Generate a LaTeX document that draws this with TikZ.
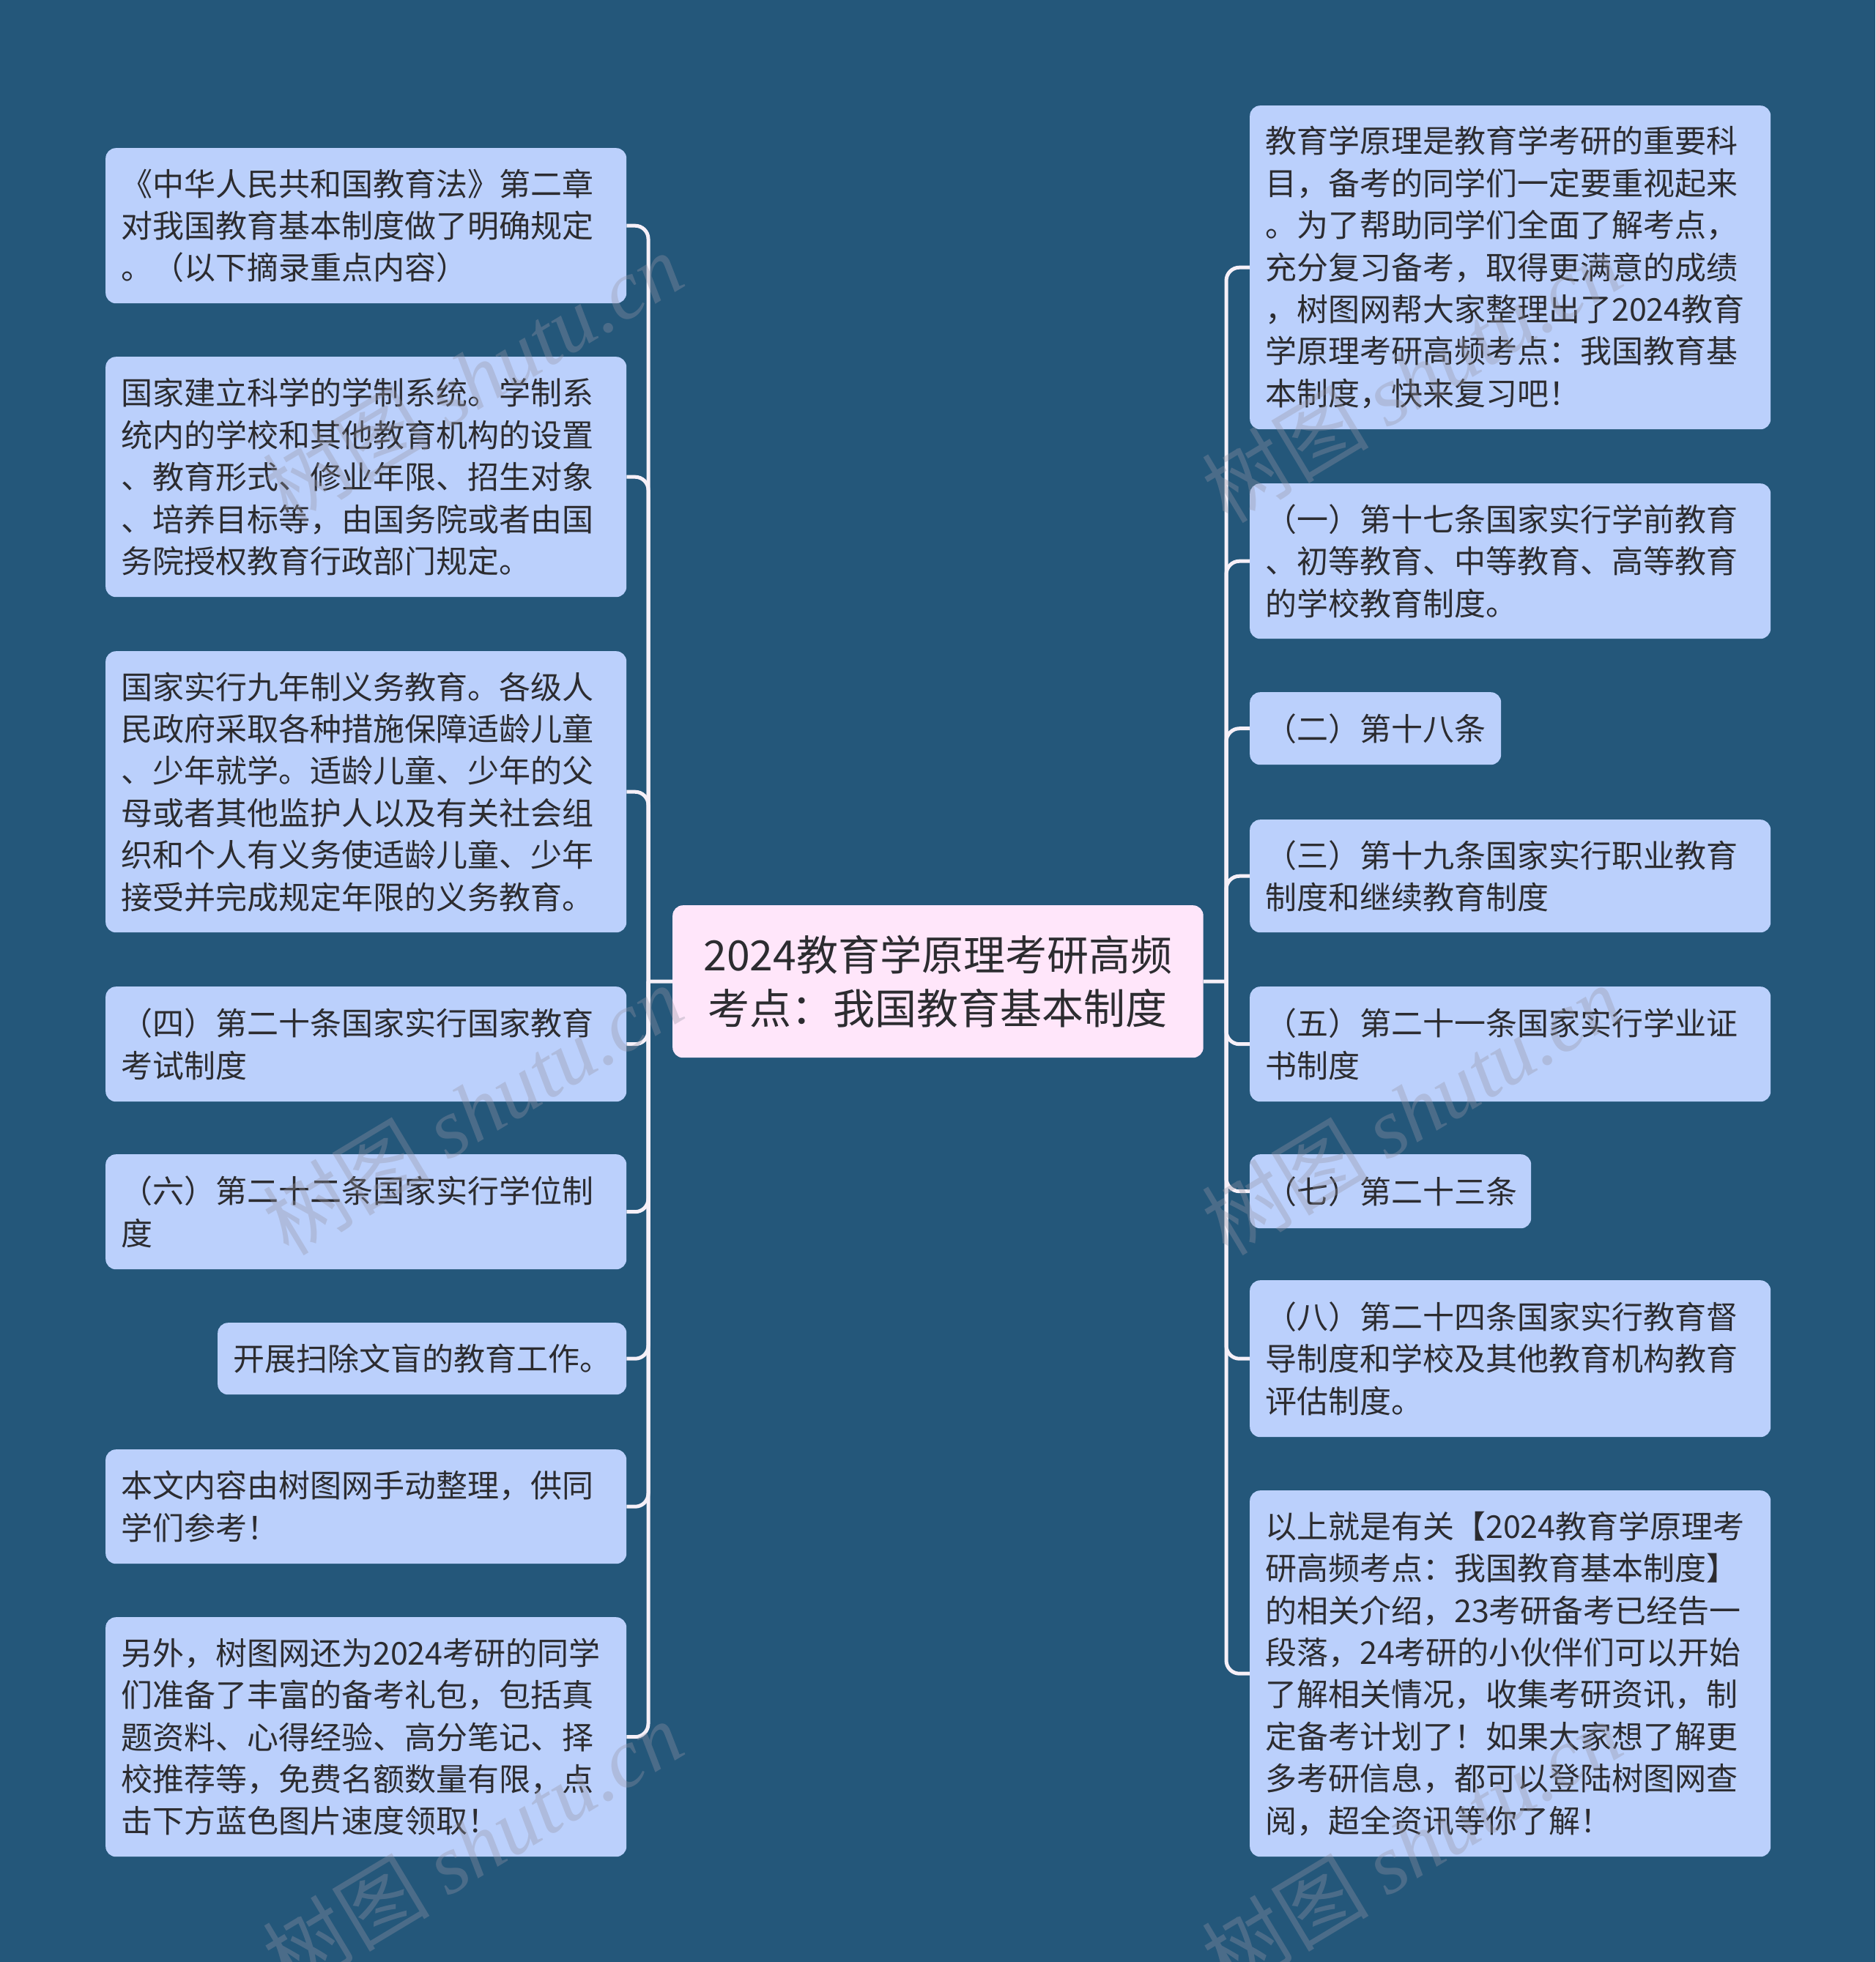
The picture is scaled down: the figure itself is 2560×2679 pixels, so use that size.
\documentclass[tikz,border=0pt]{standalone}
\usepackage{fontspec}
\setmainfont{Noto Sans CJK SC}
\newfontfamily\wmlat{Liberation Serif}
\newfontfamily\wmcjk{Noto Sans CJK SC}
\definecolor{bgc}{RGB}{36,87,122}
\definecolor{leafc}{RGB}{187,208,252}
\definecolor{rootc}{RGB}{255,230,250}
\definecolor{txt}{RGB}{44,44,48}
\definecolor{linec}{RGB}{246,240,248}
\definecolor{wmc}{RGB}{150,150,165}
\tikzset{
  leaf/.style={fill=leafc, rounded corners=14pt, text=txt, font=\fontsize{43}{57.4}\selectfont,
    align=left, inner xsep=21pt, inner ysep=0pt, anchor=north west},
  rootbox/.style={fill=rootc, rounded corners=14pt, text=txt, font=\fontsize{57}{73.5}\selectfont,
    align=center, inner sep=0pt, anchor=north west},
  conn/.style={draw=linec, line width=5pt},
  wm/.style={text=wmc, opacity=0.35, rotate=31, font=\fontsize{114}{118}\selectfont, inner sep=0pt}
}
\begin{document}
\begin{tikzpicture}[x=1pt,y=-1pt]
\fill[bgc] (0,0) rectangle (2560,2679);
\useasboundingbox (0,0) rectangle (2560,2679);

% root
\node[rootbox, minimum width=724.5pt, minimum height=208pt] (C) at (918,1236) {2024教育学原理考研高频\\考点：我国教育基本制度};

% left children
\node[leaf, text width=669pt, minimum height=212pt] (L1) at (144,202) {《中华人民共和国教育法》第二章\\对我国教育基本制度做了明确规定\\。（以下摘录重点内容）};
\node[leaf, text width=669pt, minimum height=328pt] (L2) at (144,487) {国家建立科学的学制系统。学制系\\统内的学校和其他教育机构的设置\\、教育形式、修业年限、招生对象\\、培养目标等，由国务院或者由国\\务院授权教育行政部门规定。};
\node[leaf, text width=669pt, minimum height=384pt] (L3) at (144,889) {国家实行九年制义务教育。各级人\\民政府采取各种措施保障适龄儿童\\、少年就学。适龄儿童、少年的父\\母或者其他监护人以及有关社会组\\织和个人有义务使适龄儿童、少年\\接受并完成规定年限的义务教育。};
\node[leaf, text width=669pt, minimum height=157pt] (L4) at (144,1347) {（四）第二十条国家实行国家教育\\考试制度};
\node[leaf, text width=669pt, minimum height=157pt] (L5) at (144,1576) {（六）第二十二条国家实行学位制\\度};
\node[leaf, text width=516pt, minimum height=98pt] (L6) at (297,1806) {开展扫除文盲的教育工作。};
\node[leaf, text width=669pt, minimum height=156pt] (L7) at (144,1979) {本文内容由树图网手动整理，供同\\学们参考！};
\node[leaf, text width=669pt, minimum height=327pt] (L8) at (144,2208) {另外，树图网还为2024考研的同学\\们准备了丰富的备考礼包，包括真\\题资料、心得经验、高分笔记、择\\校推荐等，免费名额数量有限，点\\击下方蓝色图片速度领取！};

% right children
\node[leaf, text width=669pt, minimum height=442pt] (R1) at (1706,144) {教育学原理是教育学考研的重要科\\目，备考的同学们一定要重视起来\\。为了帮助同学们全面了解考点，\\充分复习备考，取得更满意的成绩\\，树图网帮大家整理出了2024教育\\学原理考研高频考点：我国教育基\\本制度，快来复习吧！};
\node[leaf, text width=669pt, minimum height=212pt] (R2) at (1706,660) {（一）第十七条国家实行学前教育\\、初等教育、中等教育、高等教育\\的学校教育制度。};
\node[leaf, text width=301pt, minimum height=99pt] (R3) at (1706,945) {（二）第十八条};
\node[leaf, text width=342pt, minimum height=101pt] (R6) at (1706,1576) {（七）第二十三条};
\node[leaf, text width=669pt, minimum height=154pt] (R4) at (1706,1119) {（三）第十九条国家实行职业教育\\制度和继续教育制度};
\node[leaf, text width=669pt, minimum height=157pt] (R5) at (1706,1347) {（五）第二十一条国家实行学业证\\书制度};
\node[leaf, text width=669pt, minimum height=214pt] (R7) at (1706,1748) {（八）第二十四条国家实行教育督\\导制度和学校及其他教育机构教育\\评估制度。};
\node[leaf, text width=669pt, minimum height=500pt] (R8) at (1706,2035) {以上就是有关【2024教育学原理考\\研高频考点：我国教育基本制度】\\的相关介绍，23考研备考已经告一\\段落，24考研的小伙伴们可以开始\\了解相关情况，收集考研资讯，制\\定备考计划了！如果大家想了解更\\多考研信息，都可以登陆树图网查\\阅，超全资讯等你了解！};

% connectors
\coordinate (LT) at (885,1340);
\coordinate (RT) at (1674,1340);
\draw[conn] (C.west) -- (LT);
\draw[conn] (C.east) -- (RT);
\foreach \n in {L1,L2,L3,L4,L5,L6,L7,L8}
  \draw[conn, rounded corners=18pt] (LT) |- (\n.east);
\foreach \n in {R1,R2,R3,R4,R5,R6,R7,R8}
  \draw[conn, rounded corners=18pt] (RT) |- (\n.west);

% watermarks
\foreach \p [count=\i] in {(645,515),(645,1515),(645,2520),(1927,515),(1927,1515),(1927,2520)}
  \node[wm] (W\i) at \p {{\wmcjk 树图} {\wmlat\itshape shutu.cn}};
\end{tikzpicture}
\end{document}
